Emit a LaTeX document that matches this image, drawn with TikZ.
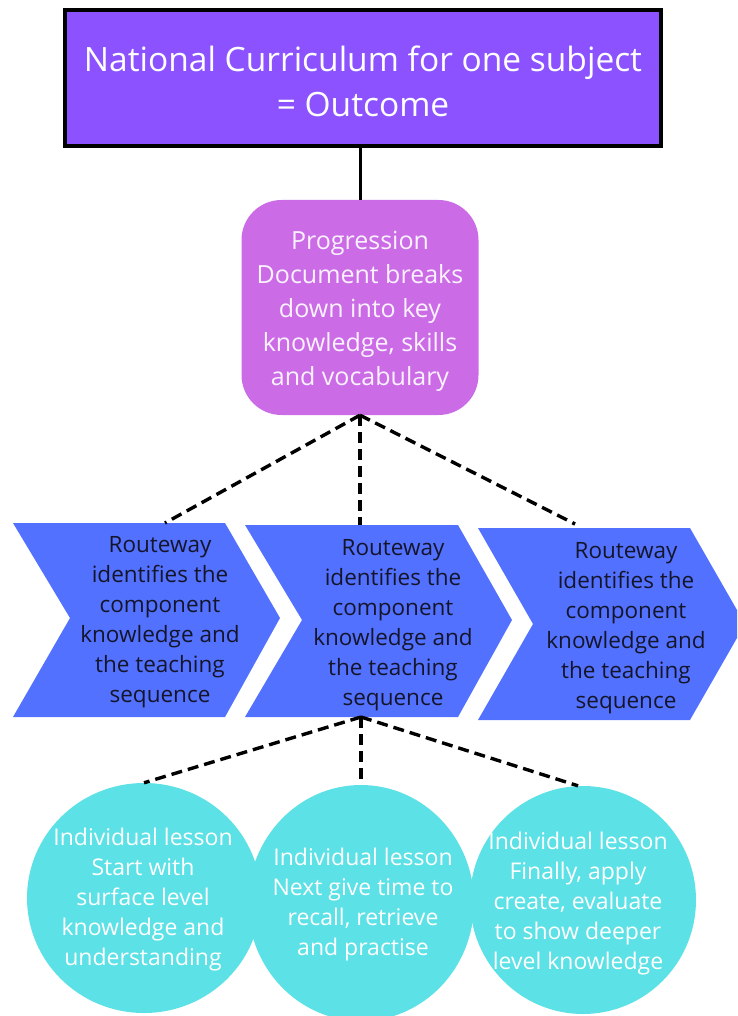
\documentclass[tikz,border=0pt]{standalone}
\usepackage{fontspec}
\setmainfont{Open Sans}
\usetikzlibrary{shapes.geometric}
\definecolor{topfill}{HTML}{8C52FF}
\definecolor{progfill}{HTML}{CB6CE6}
\definecolor{chevfill}{HTML}{5271FF}
\definecolor{circfill}{HTML}{5CE1E6}
\definecolor{darktext}{HTML}{15152A}
\definecolor{softwhite}{HTML}{FBF2FF}
\begin{document}
\begin{tikzpicture}[x=1pt,y=-1pt,
  topbox/.style={draw=black, line width=4pt, fill=topfill, minimum width=596pt, minimum height=136pt, inner sep=0pt},
  toptext/.style={text=white, align=center, font=\fontsize{33.5}{45}\selectfont, inner sep=0pt},
  progbox/.style={fill=progfill, rounded corners=40pt, minimum width=237pt, minimum height=215pt, inner sep=0pt},
  progtext/.style={text=softwhite, align=center, font=\fontsize{25}{34}\selectfont, inner sep=0pt},
  chevshape/.style={fill=chevfill},
  chevtext/.style={text=darktext, align=center, font=\fontsize{22.5}{30}\selectfont, inner sep=0pt},
  lesson/.style={ellipse, fill=circfill, inner sep=0pt},
  lessontext/.style={text=white, align=center, font=\fontsize{23}{30}\selectfont, inner sep=0pt},
  link/.style={line width=3pt, black},
  dlink/.style={line width=3.4pt, black, dash pattern=on 11pt off 6pt},
]
\useasboundingbox (0,0) rectangle (737,1016);
\clip (0,0) rectangle (737,1016);

% top box
\node[topbox] (top) at (363,78) {};
\node[toptext] (toptx) at (363,81) {National Curriculum for one subject\\= Outcome};

% progression box
\node[progbox] (prog) at (360,307.5) {};
\node[progtext] (progtx) at (360,311) {Progression\\Document breaks\\down into key\\knowledge, skills\\and vocabulary};

% chevrons
\fill[chevshape] (13,523) -- (225,523) -- (280,618) -- (225,717) -- (13,717) -- (70,618) -- cycle;
\fill[chevshape] (245,525) -- (458,525) -- (512,620) -- (458,717) -- (245,717) -- (302,620) -- cycle;
\fill[chevshape] (478,528) -- (690,528) -- (745,624) -- (690,720) -- (478,720) -- (533,624) -- cycle;
\node[chevtext] (r1) at (160,622) {Routeway\\identifies the\\component\\knowledge and\\the teaching\\sequence};
\node[chevtext] (r2) at (393,625) {Routeway\\identifies the\\component\\knowledge and\\the teaching\\sequence};
\node[chevtext] (r3) at (626,628) {Routeway\\identifies the\\component\\knowledge and\\the teaching\\sequence};
\coordinate (r1top) at (165,523);
\coordinate (r2top) at (360,525);
\coordinate (r3top) at (575,524);
\coordinate (r2bot) at (361,717);

% lesson circles
\node[lesson, minimum width=234pt, minimum height=230pt] (l1) at (144,898) {};
\node[lesson, minimum width=226pt, minimum height=236pt] (l2) at (361,903) {};
\node[lesson, minimum width=226pt, minimum height=228pt] (l3) at (583,900) {};
\node[lessontext] (t1) at (143,900) {Individual lesson\\Start with\\surface level\\knowledge and\\understanding};
\node[lessontext] (t2) at (363,905) {Individual lesson\\Next give time to\\recall, retrieve\\and practise};
\node[lessontext] (t3) at (578,904) {Individual lesson\\Finally, apply\\create, evaluate\\to show deeper\\level knowledge};

% connectors
\draw[link] (top.south -| prog.north) -- (prog.north);
\draw[dlink] (prog.south) -- (r1top);
\draw[dlink] (prog.south) -- (r2top);
\draw[dlink] (prog.south) -- (r3top);
\draw[dlink] (r2bot) -- (l1.north);
\draw[dlink] (r2bot) -- (l2.north);
\draw[dlink] (r2bot) -- (l3.north -| t3);
\end{tikzpicture}
\end{document}
